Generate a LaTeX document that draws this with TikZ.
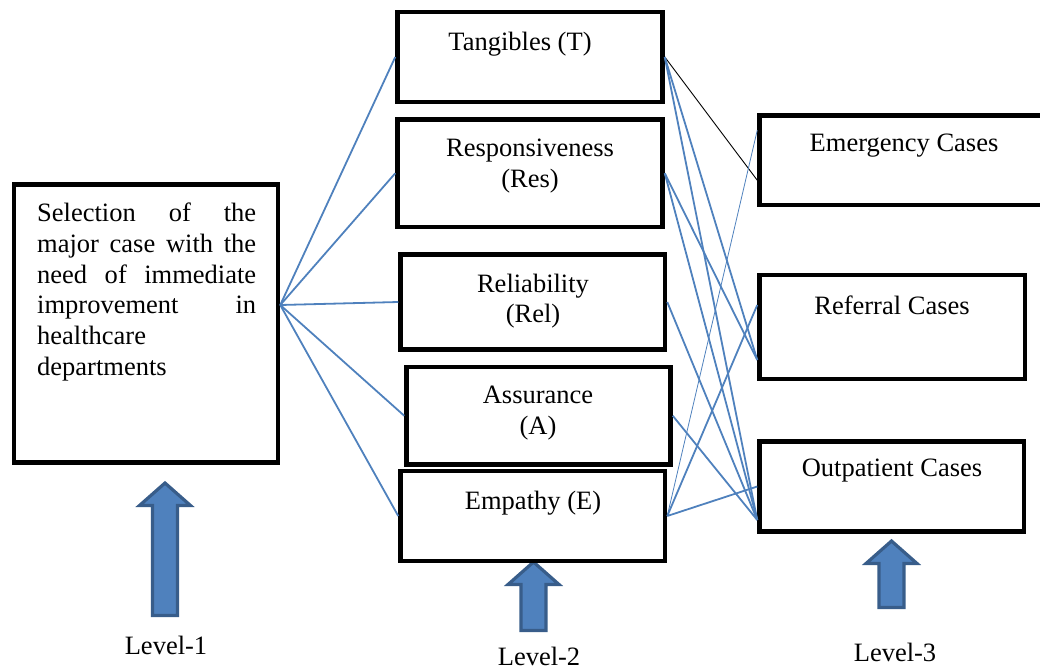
\documentclass[tikz,border=0pt]{standalone}
\usepackage{fontspec}
\setmainfont{Liberation Serif}
\usepackage{xcolor}
\definecolor{linkblue}{HTML}{4F81BD}
\definecolor{arrowrim}{HTML}{385D8A}

\begin{document}
\begin{tikzpicture}[
  x=1pt,y=-1pt,
  box/.style={draw,line width=4.5pt,fill=white,minimum width=264pt,inner sep=0pt},
  lab/.style={font=\fontsize{26.5}{30.7}\selectfont,align=center,inner sep=0pt},
  link/.style={draw=linkblue,line width=1.8pt},
  thinlink/.style={draw=linkblue,line width=0.8pt},
  blacklink/.style={draw=black,line width=0.9pt},
  lvlarrow/.style={fill=linkblue,draw=arrowrim,line width=3.2pt,line join=miter}
]
  \clip (0,0) rectangle (1040,669);

  % level arrows
  \foreach \x/\tip/\bot in {165/483/615.5, 533.5/562/630.5, 891.5/541/607.5}
    \draw[lvlarrow] (\x,\tip) -- (\x+25.5,\tip+22.5) -- (\x+12.5,\tip+22.5) -- (\x+12.5,\bot)
      -- (\x-12.5,\bot) -- (\x-12.5,\tip+22.5) -- (\x-25.5,\tip+22.5) -- cycle;

  % level 1
  \node[box,minimum height=278pt] (sel) at (146,323.5) {};
  \node[lab,anchor=north west,align=left] (seltext) at (37,203)
    {\makebox[219pt][s]{Selection of the}\\
     \makebox[219pt][s]{major case with the}\\
     \makebox[219pt][s]{need of immediate}\\
     \makebox[219pt][s]{improvement in}\\
     healthcare\\
     departments};

  % level 2
  \node[box,minimum width=265pt,minimum height=90pt] (tan) at (530,57) {};
  \node[box,minimum width=265pt,minimum height=107.5pt] (res) at (530,173.25) {};
  \node[box,minimum width=264.5pt,minimum height=95pt] (rel) at (532.75,302) {};
  \node[box,minimum height=97.5pt] (ass) at (538.5,415.75) {};
  \node[box,minimum width=264.5pt,minimum height=90pt] (emp) at (532.75,516) {};

  \node[lab] (tan-t) at (520,44) {Tangibles (T)};
  \node[lab] (res-t) at (530,166) {Responsiveness\\(Res)};
  \node[lab] (rel-t) at (533,301) {Reliability\\(Rel)};
  \node[lab] (ass-t) at (538,413) {Assurance\\(A)};
  \node[lab] (emp-t) at (533,503) {Empathy (E)};

  % level 3
  \node[box,minimum width=286.5pt,minimum height=89.5pt] (emg) at (902.75,160.25) {};
  \node[box,minimum width=265.5pt,minimum height=104pt] (ref) at (892.25,327) {};
  \node[box,minimum width=264.5pt,minimum height=90pt] (out) at (891.75,486.5) {};

  \node[lab] (emg-t) at (904,146) {Emergency Cases};
  \node[lab] (ref-t) at (892,305) {Referral Cases};
  \node[lab] (out-t) at (892,471) {Outpatient Cases};

  \node[lab] (lvl1) at (166,645) {Level-1};
  \node[lab] (lvl2) at (539,656) {Level-2};
  \node[lab] (lvl3) at (895,652) {Level-3};

  % link ends
  \coordinate (selout) at ([yshift=18.5pt]sel.east);
  \coordinate (emg-lo) at ([yshift=-20pt]emg.west);
  \coordinate (emg-hi) at ([yshift=30pt]emg.west);
  \coordinate (ref-lo) at ([yshift=-33pt]ref.west);
  \coordinate (ref-hi) at ([yshift=22pt]ref.west);
  \coordinate (out-lo) at ([yshift=-33.5pt]out.west);

  % level 1 to level 2
  \draw[link] (selout) -- (tan.west);
  \draw[link] (selout) -- (res.west);
  \draw[link] (selout) -- (rel.west);
  \draw[link] (selout) -- (ass.west);
  \draw[link] (selout) -- (emp.west);

  % level 2 to level 3
  \draw[blacklink] (tan.east) -- (emg-lo);
  \draw[link] (tan.east) -- (ref-lo);
  \draw[link] (tan.east) -- (out-lo);
  \draw[link] (res.east) -- (ref-lo);
  \draw[link] (res.east) -- (out-lo);
  \draw[link] (rel.east) -- (out-lo);
  \draw[link] (ass.east) -- (out-lo);
  \draw[thinlink] (emp.east) -- (emg-hi);
  \draw[link] (emp.east) -- (ref-hi);
  \draw[link] (emp.east) -- (out.west);
\end{tikzpicture}
\end{document}
